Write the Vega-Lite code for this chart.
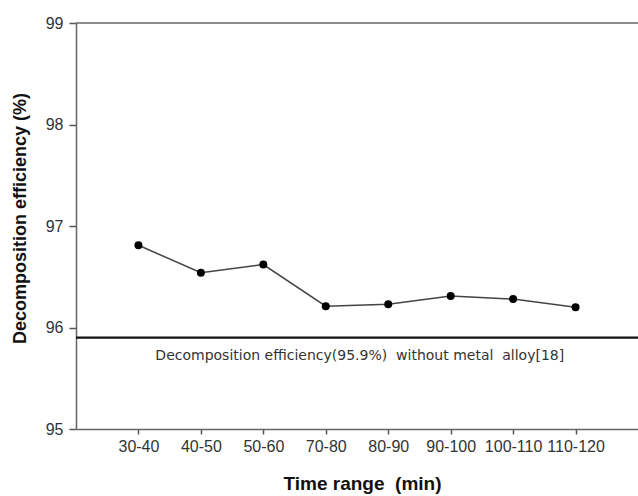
{
  "$schema": "https://vega.github.io/schema/vega-lite/v6.json",
  "width": 562,
  "height": 406,
  "autosize": "none",
  "padding": {"left": 76, "top": 23, "right": 0, "bottom": 67},
  "background": "white",
  "config": {
    "view": {"stroke": null},
    "font": "Liberation Sans"
  },
  "datasets": {
    "main": [
      {"time": "30-40", "eff": 96.81},
      {"time": "40-50", "eff": 96.54},
      {"time": "50-60", "eff": 96.62},
      {"time": "70-80", "eff": 96.21},
      {"time": "80-90", "eff": 96.23},
      {"time": "90-100", "eff": 96.31},
      {"time": "100-110", "eff": 96.28},
      {"time": "110-120", "eff": 96.2}
    ],
    "ref": [
      {"label": "Decomposition efficiency(95.9%)\u00a0 without metal\u00a0 alloy[18]", "value": 95.9, "at": "70-80"}
    ]
  },
  "layer": [
    {
      "data": {"name": "main"},
      "mark": {"type": "line", "color": "#444", "strokeWidth": 1.5, "point": {"filled": true, "color": "#000", "size": 64, "opacity": 1}},
      "encoding": {
        "x": {
          "field": "time",
          "type": "ordinal",
          "sort": null,
          "scale": {"type": "point", "padding": 1, "domain": ["30-40", "40-50", "50-60", "70-80", "80-90", "90-100", "100-110", "110-120"]},
          "axis": {
            "title": "Time range\u00a0 (min)",
            "labelAngle": 0,
            "labelAlign": "center",
            "labelFontSize": 16,
            "labelColor": "#333",
            "labelPadding": 4,
            "tickSize": 5,
            "tickColor": "#555",
            "tickWidth": 1.5,
            "domainColor": "#666",
            "domainWidth": 1.5,
            "titleFontSize": 19,
            "titleFontWeight": "bold",
            "titleColor": "#111",
            "titleX": 286,
            "titleY": 45
          }
        },
        "y": {
          "field": "eff",
          "type": "quantitative",
          "scale": {"domain": [95, 99], "nice": false, "zero": false},
          "axis": {
            "title": "Decomposition efficiency (%)",
            "values": [95, 96, 97, 98, 99],
            "format": "d",
            "grid": false,
            "labelFontSize": 16,
            "labelColor": "#333",
            "labelPadding": 6,
            "tickSize": 7,
            "tickColor": "#555",
            "tickWidth": 1.5,
            "domainColor": "#666",
            "domainWidth": 1.5,
            "titleFontSize": 18,
            "titleFontWeight": "bold",
            "titleColor": "#111",
            "titleX": -47,
            "titleY": 195
          }
        }
      }
    },
    {
      "data": {"values": [{"top": 99}]},
      "mark": {"type": "rule", "color": "#666", "strokeWidth": 1.5},
      "encoding": {"y": {"field": "top", "type": "quantitative"}}
    },
    {
      "data": {"name": "ref"},
      "mark": {"type": "rule", "color": "#111", "strokeWidth": 2.2},
      "encoding": {"y": {"field": "value", "type": "quantitative"}}
    },
    {
      "data": {"name": "ref"},
      "mark": {"type": "text", "dx": 34, "dy": 18, "font": "DejaVu Sans", "fontSize": 14, "letterSpacing": 0.5, "color": "#333", "align": "center", "baseline": "middle"},
      "encoding": {
        "x": {"field": "at", "type": "ordinal"},
        "y": {"field": "value", "type": "quantitative"},
        "text": {"field": "label"}
      }
    }
  ]
}
